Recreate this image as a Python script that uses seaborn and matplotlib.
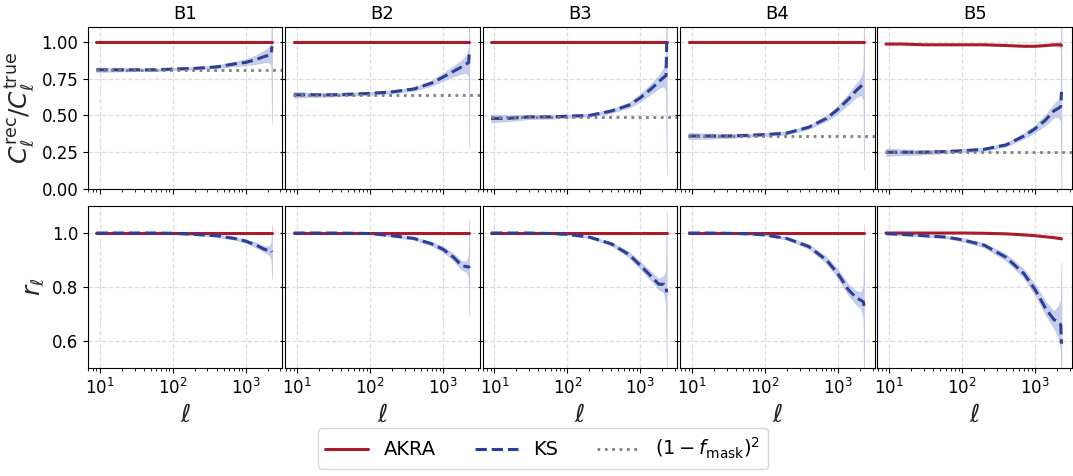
import numpy as np
import pandas as pd
import seaborn as sns
import matplotlib.pyplot as plt

ell = [9, 15, 30, 60, 100, 200, 400, 700, 1000, 1400, 1800, 2100, 2250, 2300]
bins = ['B1', 'B2', 'B3', 'B4', 'B5']
f_mask_sq = [0.81, 0.64, 0.49, 0.36, 0.25]

# C_rec / C_true, KS
ks_ratio = {
    'B1': [0.81, 0.81, 0.81, 0.81, 0.815, 0.82, 0.83, 0.85, 0.86, 0.88, 0.90, 0.91, 0.92, 0.97],
    'B2': [0.64, 0.64, 0.64, 0.645, 0.65, 0.66, 0.68, 0.72, 0.76, 0.80, 0.83, 0.85, 0.86, 0.93],
    'B3': [0.48, 0.48, 0.49, 0.49, 0.495, 0.50, 0.53, 0.57, 0.62, 0.68, 0.73, 0.76, 0.77, 1.00],
    'B4': [0.36, 0.36, 0.36, 0.365, 0.37, 0.38, 0.42, 0.48, 0.54, 0.61, 0.67, 0.70, 0.71, 0.73],
    'B5': [0.25, 0.25, 0.25, 0.255, 0.26, 0.27, 0.30, 0.36, 0.41, 0.47, 0.53, 0.55, 0.56, 0.66],
}
ks_ratio_err = {
    'B1': [0.015, 0.012, 0.01, 0.008, 0.008, 0.008, 0.01, 0.015, 0.02, 0.03, 0.04, 0.05, 0.08, 0.52],
    'B2': [0.02, 0.015, 0.012, 0.01, 0.01, 0.01, 0.012, 0.018, 0.025, 0.035, 0.045, 0.06, 0.09, 0.65],
    'B3': [0.025, 0.02, 0.015, 0.012, 0.01, 0.01, 0.012, 0.018, 0.025, 0.035, 0.045, 0.06, 0.1, 0.9],
    'B4': [0.02, 0.018, 0.014, 0.01, 0.01, 0.01, 0.012, 0.018, 0.025, 0.035, 0.045, 0.06, 0.1, 0.6],
    'B5': [0.025, 0.02, 0.015, 0.012, 0.01, 0.01, 0.012, 0.018, 0.025, 0.035, 0.045, 0.06, 0.1, 0.7],
}
akra_ratio = {b: [1.0] * len(ell) for b in bins}
akra_ratio['B5'] = [0.985, 0.985, 0.98, 0.98, 0.98, 0.98, 0.975, 0.97, 0.97, 0.975, 0.98, 0.98, 0.98, 0.975]
akra_ratio_err = {b: [0.0] * len(ell) for b in bins}
akra_ratio_err['B5'] = [0.005, 0.004, 0.004, 0.004, 0.004, 0.004, 0.004, 0.005, 0.006, 0.008, 0.01, 0.015, 0.03, 0.25]

# correlation coefficient r_ell
ks_corr = {
    'B1': [1.0, 1.0, 1.0, 1.0, 0.999, 0.995, 0.99, 0.98, 0.97, 0.955, 0.94, 0.935, 0.935, 0.93],
    'B2': [1.0, 1.0, 1.0, 0.999, 0.998, 0.99, 0.98, 0.96, 0.94, 0.91, 0.88, 0.875, 0.875, 0.87],
    'B3': [1.0, 1.0, 1.0, 0.998, 0.995, 0.985, 0.96, 0.92, 0.88, 0.84, 0.81, 0.81, 0.80, 0.78],
    'B4': [1.0, 1.0, 0.999, 0.997, 0.993, 0.98, 0.95, 0.90, 0.85, 0.79, 0.76, 0.75, 0.745, 0.73],
    'B5': [0.998, 0.995, 0.99, 0.985, 0.975, 0.955, 0.91, 0.85, 0.79, 0.72, 0.68, 0.67, 0.66, 0.59],
}
ks_corr_err = {
    'B1': [0.003, 0.003, 0.002, 0.002, 0.002, 0.003, 0.004, 0.005, 0.007, 0.009, 0.011, 0.015, 0.03, 0.1],
    'B2': [0.003, 0.003, 0.002, 0.002, 0.002, 0.003, 0.005, 0.007, 0.01, 0.013, 0.016, 0.02, 0.04, 0.18],
    'B3': [0.003, 0.003, 0.002, 0.002, 0.003, 0.004, 0.006, 0.01, 0.013, 0.016, 0.02, 0.03, 0.06, 0.3],
    'B4': [0.003, 0.003, 0.002, 0.002, 0.003, 0.005, 0.008, 0.012, 0.016, 0.02, 0.025, 0.03, 0.06, 0.3],
    'B5': [0.004, 0.004, 0.003, 0.004, 0.006, 0.008, 0.012, 0.016, 0.02, 0.025, 0.03, 0.06, 0.09, 0.3],
}
akra_corr = {b: [1.0] * len(ell) for b in bins}
akra_corr['B5'] = [1.0, 1.0, 1.0, 1.0, 1.0, 0.999, 0.997, 0.993, 0.99, 0.986, 0.983, 0.98, 0.98, 0.978]

red = '#a91c2e'
blue = '#2b3f9a'
band = '#b0bae0'

sns.set_style('ticks', {'axes.edgecolor': 'black', 'xtick.color': 'black',
                        'ytick.color': 'black', 'text.color': 'black'})
plt.rcParams['font.family'] = ['DejaVu Sans']
plt.rcParams['mathtext.fontset'] = 'dejavusans'

fig, axes = plt.subplots(2, 5, figsize=(10.73, 4.76), dpi=100, sharex=True, sharey='row')
fig.subplots_adjust(left=0.082, right=0.999, top=0.943, bottom=0.227, wspace=0.015, hspace=0.105)

for j, b in enumerate(bins):
    df = pd.DataFrame({'ell': ell,
                       'ks_ratio': ks_ratio[b], 'ks_ratio_err': ks_ratio_err[b],
                       'akra_ratio': akra_ratio[b], 'akra_ratio_err': akra_ratio_err[b],
                       'ks_corr': ks_corr[b], 'ks_corr_err': ks_corr_err[b],
                       'akra_corr': akra_corr[b]})

    ax = axes[0, j]
    ax.fill_between(df['ell'], df['akra_ratio'] - df['akra_ratio_err'],
                    df['akra_ratio'] + df['akra_ratio_err'], color=red, alpha=0.2, lw=0)
    ax.fill_between(df['ell'], df['ks_ratio'] - df['ks_ratio_err'],
                    df['ks_ratio'] + df['ks_ratio_err'], color=band, alpha=0.7, lw=0.5, edgecolor=band)
    sns.lineplot(data=df, x='ell', y='akra_ratio', ax=ax, color=red, lw=2.2, label='AKRA', legend=False)
    sns.lineplot(data=df, x='ell', y='ks_ratio', ax=ax, color=blue, lw=2.2, ls='--', label='KS', legend=False)
    ax.axhline(f_mask_sq[j], color='gray', lw=2, ls=':', xmin=0.04, label=r'$(1-f_{\rm mask})^2$')
    ax.set_title(b, fontsize=13)

    ax = axes[1, j]
    ax.fill_between(df['ell'], df['ks_corr'] - df['ks_corr_err'],
                    df['ks_corr'] + df['ks_corr_err'], color=band, alpha=0.7, lw=0.5, edgecolor=band)
    sns.lineplot(data=df, x='ell', y='akra_corr', ax=ax, color=red, lw=2.2, legend=False)
    sns.lineplot(data=df, x='ell', y='ks_corr', ax=ax, color=blue, lw=2.2, ls='--', legend=False)
    ax.set_xlabel(r'$\ell$', fontsize=18)

for ax in axes.flat:
    ax.set_xscale('log')
    ax.set_xlim(6.9, 3200)
    ax.grid(True, ls='--', color='#dddddd', lw=0.9)
    ax.tick_params(labelsize=12)
    if ax not in axes[1]:
        ax.set_xlabel('')
    ax.set_ylabel('')

axes[0, 0].set_ylim(0, 1.1)
axes[0, 0].set_yticks([0, 0.25, 0.5, 0.75, 1.0])
axes[0, 0].set_yticklabels(['0.00', '0.25', '0.50', '0.75', '1.00'])
axes[1, 0].set_ylim(0.5, 1.1)
axes[1, 0].set_yticks([0.6, 0.8, 1.0])
axes[0, 0].set_ylabel(r'$C_\ell^{\rm rec}/C_\ell^{\rm true}$', fontsize=18)
axes[1, 0].set_ylabel(r'$r_\ell$', fontsize=18)

handles, labels = axes[0, 0].get_legend_handles_labels()
fig.legend(handles, labels, loc='lower center', ncol=3, fontsize=14,
           bbox_to_anchor=(0.506, -0.005), handlelength=2.2, columnspacing=2.0)

fig.savefig('out.png', dpi=100)
